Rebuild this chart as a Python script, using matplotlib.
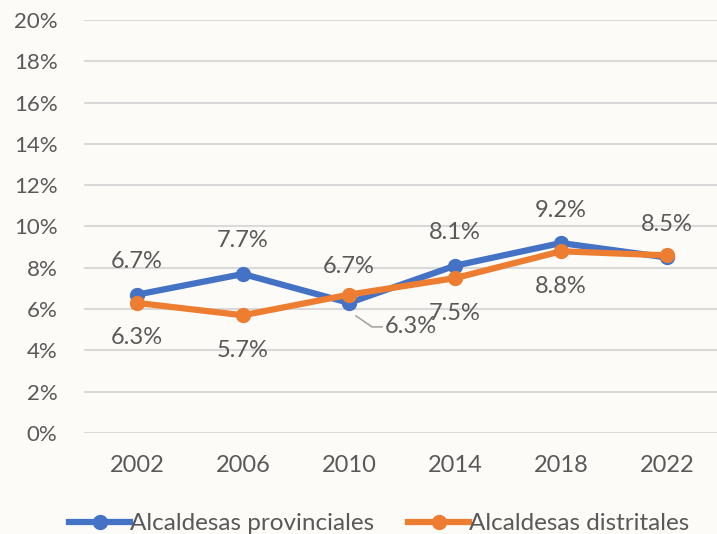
import matplotlib.pyplot as plt
from matplotlib.lines import Line2D
from matplotlib.transforms import IdentityTransform

years = ["2002", "2006", "2010", "2014", "2018", "2022"]
provinciales = [6.7, 7.7, 6.3, 8.1, 9.2, 8.5]
distritales = [6.3, 5.7, 6.7, 7.5, 8.8, 8.6]
y_ticks = [0, 2, 4, 6, 8, 10, 12, 14, 16, 18, 20]

BLUE = "#4472C4"
ORANGE = "#ED7D31"
TEXT = "#595959"
BG = "#FDFBF8"
FS = 16
FS_LAB = 17

plt.rcParams["font.family"] = ["Lato", "DejaVu Sans"]

fig = plt.figure(figsize=(7.17, 5.34), dpi=100, facecolor=BG)
ax = fig.add_axes([84 / 717, 101 / 534, 636 / 717, 413 / 534])
ax.set_facecolor(BG)

x = list(range(len(years)))
ax.plot(x, provinciales, color=BLUE, lw=4.5, marker="o", ms=10,
        label="Alcaldesas provinciales", zorder=3)
ax.plot(x, distritales, color=ORANGE, lw=4.5, marker="o", ms=10,
        label="Alcaldesas distritales", zorder=4)

ax.set_xlim(-0.5, len(years) - 0.5)
ax.set_ylim(0, 20)

# labels for the blue series, above the points
for i, v in enumerate(provinciales):
    if i == 2:
        # pushed out to the right with a leader line
        ax.annotate(f"{v}%", (i, v), xytext=(62, -24), textcoords="offset pixels",
                    ha="center", va="center", fontsize=FS_LAB, color=TEXT)
        px, py = ax.transData.transform((i, v))
        ldx = [7, 23, 33]
        ldy = [-13, -24, -24]
        fig.add_artist(Line2D([px + d for d in ldx], [py + d for d in ldy],
                              transform=IdentityTransform(), color="#A6A6A6", lw=1.2))
        continue
    ax.annotate(f"{v}%", (i, v), xytext=(0, 33), textcoords="offset pixels",
                ha="center", va="center", fontsize=FS_LAB, color=TEXT)

# labels for the orange series
for i, v in enumerate(distritales):
    if i == 5:
        continue  # hidden behind the blue label in the original
    dy = 28 if i == 2 else -35
    ax.annotate(f"{v}%", (i, v), xytext=(0, dy), textcoords="offset pixels",
                ha="center", va="center", fontsize=FS_LAB, color=TEXT)

ax.set_xticks(x)
ax.set_xticklabels(years)
ax.set_yticks(y_ticks)
ax.set_yticklabels([f"{t}%" for t in y_ticks])
ax.tick_params(length=0, labelsize=FS, colors=TEXT)
ax.tick_params(axis="x", pad=16, labelsize=FS_LAB)
ax.tick_params(axis="y", pad=19)
ax.grid(axis="y", color="#D9D9D9", lw=1.5)
ax.set_axisbelow(True)
for s in ax.spines.values():
    s.set_visible(False)

leg = fig.legend(loc="center", bbox_to_anchor=(0.529, 0.019), ncol=2, frameon=False,
                 fontsize=17.5, handlelength=2.5, handletextpad=0.0, columnspacing=1.4)
for t in leg.get_texts():
    t.set_color(TEXT)

fig.savefig("out.png", dpi=100, facecolor=BG)
